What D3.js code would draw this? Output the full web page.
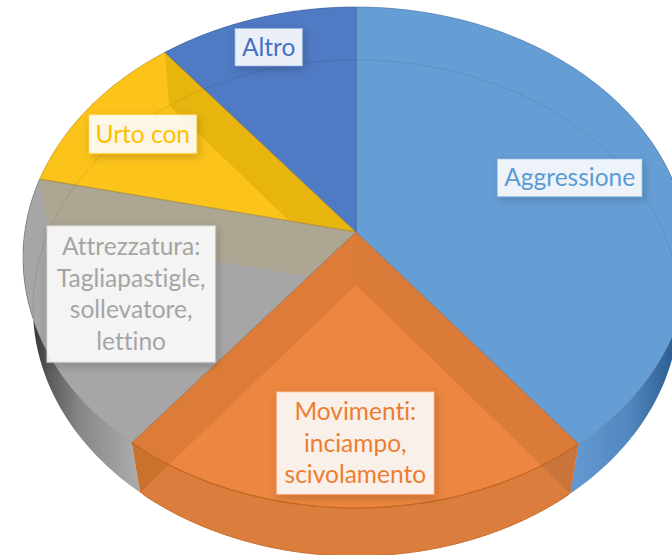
<!DOCTYPE html>
<html><head><meta charset="utf-8">
<script src="https://cdn.jsdelivr.net/npm/d3@7"></script>
<style>html,body{margin:0;padding:0;background:#fff;overflow:hidden}svg{display:block}</style>
</head><body><div id="chart"></div>
<script>
const categories = ["Aggressione","Movimenti","Attrezzatura","Urto con","Altro"];
const values = [39.4,21.3,17.8,10.8,10.7];
const labelLines = [["Aggressione"],["Movimenti:","inciampo,","scivolamento"],["Attrezzatura:","Tagliapastigle,","sollevatore,","lettino"],["Urto con"],["Altro"]];
const faceColors = ["#659ed5","#ec8640","#a6a6a6","#fcc31b","#4f7ac4"];
const textColors = ["#5b9bd5","#ed7d31","#a5a5a5","#ffc000","#4472c4"];
const wallColors = ["url(#wallBlue)","#db7e3d","url(#wallGray)","#c99a10","#3d64a5"];
const bandColors = [[1,2,"#dd7c38"],[1,3,"#dd7c38"],[1,4,"#dd7c38"],[1,0,"#da7b3a"],[2,3,"#aca693"],[2,4,"#aca693"],[3,4,"#e8b50f"]];
const wallBands = [[1,2,"#c9712d"],[1,0,"#c8743a"]];
const labelRadius = [0.62,0.62,0.6,0.6,0.78];
const labelNudge = [[23.5,-5],[0,47],[-33.5,11.5],[-50,-21.5],[-8,-15]];
const boxSizes = [[145,38],[158,103],[169,137],[108,39],[68,38]];

const W=672,H=555;
const svg=d3.select("#chart").append("svg").attr("width",W).attr("height",H);
const defs=svg.append("defs");
function grad(id,stops){const g=defs.append("linearGradient").attr("id",id).attr("gradientUnits","userSpaceOnUse").attr("x1",stops[0][0]).attr("x2",stops[stops.length-1][0]).attr("y1",0).attr("y2",0);
 const x0=stops[0][0],x1=stops[stops.length-1][0];
 stops.forEach(s=>g.append("stop").attr("offset",(s[0]-x0)/(x1-x0)).attr("stop-color",s[1]));}
grad("wallBlue",[[578,"#6297cf"],[630,"#5187bf"],[672,"#2f5f92"]]);
grad("wallGray",[[28,"#2a2a2a"],[50,"#5c5c5c"],[80,"#878787"],[133,"#a9a9a9"]]);
const sh=defs.append("filter").attr("id","sh").attr("x","-30%").attr("y","-30%").attr("width","160%").attr("height","160%");
sh.append("feDropShadow").attr("dx",2).attr("dy",3).attr("stdDeviation",4).attr("flood-color","#000").attr("flood-opacity",.22);

const pies=d3.pie().sort(null).value(d=>d)(values);
const topDisc={cx:356,cy:232,A:331.3,B:247.9,k:0.1018};
const botDisc={cx:356,cy:285,A:321.6,B:245.9,k:0.0927};
function proj(d,a,r){const u=r*Math.sin(a),v=-r*Math.cos(a),w=1-d.k*v;return [d.cx+d.A*u/w,d.cy+d.B*v/w];}
function arcPts(d,s,e){const n=Math.max(2,Math.ceil((e-s)/(Math.PI/180)));return d3.range(n+1).map(i=>proj(d,s+(e-s)*i/n,1));}
const line=d3.line();
const slicePath=(d,p)=>line([[d.cx,d.cy],...arcPts(d,p.startAngle,p.endAngle)])+"Z";
const wallPath=p=>line([...arcPts(topDisc,p.startAngle,p.endAngle),...arcPts(botDisc,p.startAngle,p.endAngle).reverse()])+"Z";

pies.forEach((p,i)=>{
 defs.append("clipPath").attr("id","top"+i).append("path").attr("d",slicePath(topDisc,p));
 defs.append("clipPath").attr("id","wall"+i).append("path").attr("d",wallPath(p));
});

// side walls
pies.forEach((p,i)=>{
 svg.append("path").attr("d",wallPath(p)).attr("fill",wallColors[i]);
 const g=svg.append("g").attr("clip-path",`url(#wall${i})`);
 wallBands.filter(b=>b[0]===i).forEach(b=>g.append("path").attr("d",slicePath(botDisc,pies[b[1]])).attr("fill",b[2]));
});
// lower rim line
svg.append("path").attr("d",line(arcPts(botDisc,Math.PI*0.79,Math.PI*1.21))).attr("fill","none").attr("stroke","#c96d2a").attr("stroke-width",1);

// top face slices with the see-through base disc and back wall
pies.forEach((p,i)=>{
 const g=svg.append("g").attr("clip-path",`url(#top${i})`);
 g.append("path").attr("d",slicePath(topDisc,p)).attr("fill",faceColors[i]);
 bandColors.filter(b=>b[0]===i).forEach(b=>{
  g.append("path").attr("d",slicePath(botDisc,pies[b[1]])).attr("fill",b[2]);
  g.append("path").attr("d",wallPath(pies[b[1]])).attr("fill",b[2]);
 });
 g.append("path").attr("d",line(arcPts(botDisc,0,2*Math.PI))+"Z").attr("fill","none").attr("stroke","#000").attr("stroke-opacity",.09).attr("stroke-width",1);
});
// slice outlines
pies.forEach((p,i)=>{
 svg.append("path").attr("d",slicePath(topDisc,p)).attr("fill","none").attr("stroke",d3.color(faceColors[i]).darker(.7)).attr("stroke-width",.8).attr("stroke-opacity",.75);
});
// orange rim is stronger
svg.append("path").attr("d",line(arcPts(topDisc,pies[1].startAngle,pies[1].endAngle))).attr("fill","none").attr("stroke","#c5661f").attr("stroke-width",1.2);

// labels
pies.forEach((p,i)=>{
 const mid=(p.startAngle+p.endAngle)/2;
 const c=proj(topDisc,mid,labelRadius[i]);
 const cx=c[0]+labelNudge[i][0],cy=c[1]+labelNudge[i][1];
 const [bw,bh]=boxSizes[i];
 svg.append("rect").attr("x",cx-bw/2).attr("y",cy-bh/2).attr("width",bw).attr("height",bh)
  .attr("fill","#fff").attr("fill-opacity",.88).attr("stroke",textColors[i]).attr("stroke-opacity",.35).attr("stroke-width",1.5).attr("filter","url(#sh)");
 const lh=labelLines[i].length>1?31.7:0;
 labelLines[i].forEach((t,j)=>{
  svg.append("text").attr("x",cx).attr("y",cy+(j-(labelLines[i].length-1)/2)*lh)
   .attr("dy","0.35em").attr("text-anchor","middle").attr("font-family","Lato, Carlito, sans-serif").attr("font-size",24.5)
   .style("font-variant-ligatures","none").attr("fill",textColors[i]).text(t);
 });
});
</script></body></html>
